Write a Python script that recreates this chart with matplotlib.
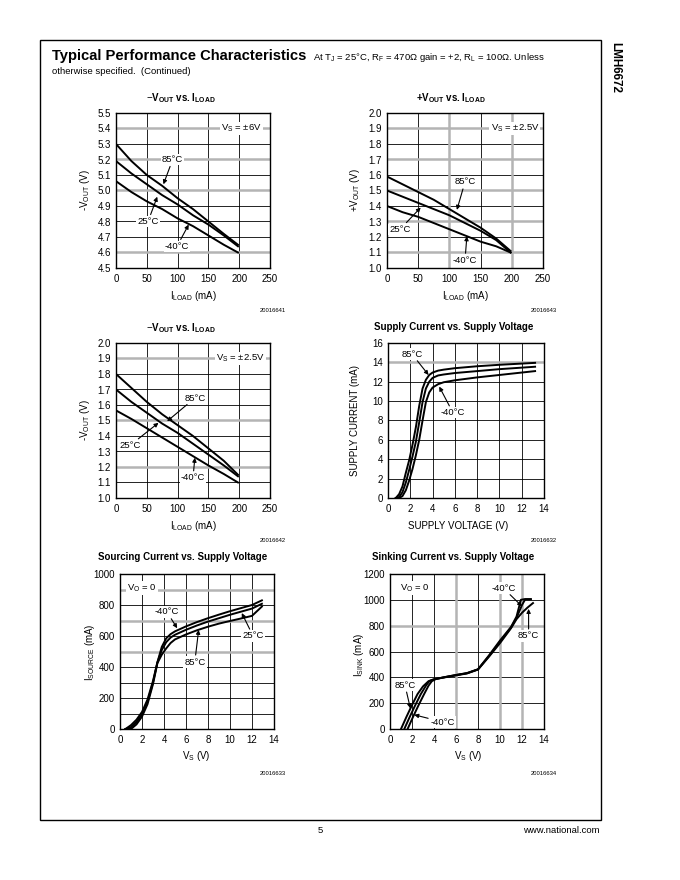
import matplotlib
matplotlib.use('Agg')
import matplotlib.pyplot as plt
from matplotlib.patches import Rectangle

plt.rcParams['font.family'] = ['Liberation Sans', 'DejaVu Sans']
plt.rcParams['mathtext.fontset'] = 'custom'
plt.rcParams['mathtext.rm'] = 'Liberation Sans'
plt.rcParams['mathtext.bf'] = 'Liberation Sans:bold'
plt.rcParams['mathtext.it'] = 'Liberation Sans:italic'
plt.rcParams['mathtext.sf'] = 'Liberation Sans'

# ---------------- data ----------------
temps = ['85°C', '25°C', '-40°C']

iload = [0, 25, 50, 75, 100, 125, 150, 175, 198]

# -VOUT vs ILOAD, VS = ±6V
vneg6_85 = [5.30, 5.19, 5.10, 5.03, 4.95, 4.88, 4.80, 4.72, 4.65]
vneg6_25 = [5.19, 5.11, 5.04, 4.97, 4.91, 4.84, 4.78, 4.71, 4.64]
vneg6_m40 = [5.06, 4.99, 4.93, 4.88, 4.82, 4.77, 4.71, 4.65, 4.60]

# +VOUT vs ILOAD, VS = ±2.5V
vpos25_85 = [1.59, 1.54, 1.49, 1.44, 1.38, 1.32, 1.26, 1.19, 1.11]
vpos25_25 = [1.50, 1.46, 1.42, 1.38, 1.34, 1.29, 1.24, 1.18, 1.10]
vpos25_m40 = [1.40, 1.36, 1.33, 1.29, 1.25, 1.21, 1.17, 1.14, 1.10]

# -VOUT vs ILOAD, VS = ±2.5V
vneg25_85 = [1.80, 1.71, 1.62, 1.54, 1.47, 1.40, 1.32, 1.24, 1.15]
vneg25_25 = [1.70, 1.62, 1.55, 1.48, 1.42, 1.35, 1.28, 1.21, 1.14]
vneg25_m40 = [1.565, 1.51, 1.45, 1.39, 1.33, 1.27, 1.21, 1.155, 1.10]

# Supply current vs supply voltage
supply_v = [0.7, 1.0, 1.3, 1.6, 1.9, 2.2, 2.5, 2.8, 3.1, 3.4, 3.7, 4.0,
            4.5, 5.0, 6.0, 8.0, 10.0, 13.2]
isupply_85 = [0, 0.4, 1.2, 2.6, 3.9, 5.5, 7.3, 9.5, 11.3, 12.2, 12.7, 12.95,
              13.15, 13.25, 13.4, 13.6, 13.75, 13.95]
isupply_25 = [0, 0.1, 0.6, 1.6, 2.9, 4.3, 5.8, 7.8, 9.9, 11.3, 12.0, 12.4,
              12.65, 12.75, 12.9, 13.1, 13.3, 13.55]
isupply_m40 = [0, 0, 0.2, 0.8, 1.8, 3.0, 4.4, 6.0, 8.0, 9.9, 10.9, 11.4,
               11.75, 11.95, 12.15, 12.45, 12.7, 13.1]

# Sourcing current vs VS
source_v = [0.5, 1.0, 1.5, 2.0, 2.5, 3.0, 3.4, 3.8, 4.2, 4.6, 5.0, 6.0,
            7.0, 8.0, 9.0, 10.0, 11.0, 12.0, 12.9]
isource_m40 = [0, 25, 60, 110, 190, 310, 430, 530, 585, 612, 630, 662,
               690, 715, 738, 760, 780, 800, 830]
isource_25 = [0, 12, 45, 95, 175, 300, 430, 510, 560, 590, 608, 640,
              668, 693, 715, 737, 757, 777, 808]
isource_85 = [0, 0, 30, 80, 160, 290, 425, 480, 520, 555, 578, 610,
              637, 660, 680, 697, 713, 730, 790]

# Sinking current vs VS
sink_v_85 = [1.0, 1.5, 2.0, 2.5, 3.0, 3.5, 4.0, 5.0, 6.0, 7.0, 8.0, 9.0,
             10.0, 11.0, 11.5, 12.0, 12.5, 13.0]
isink_85 = [0, 95, 185, 270, 330, 370, 385, 400, 415, 430, 460, 560,
            665, 780, 850, 900, 940, 975]
sink_v_25 = [1.3, 1.8, 2.3, 2.8, 3.3, 3.6, 4.0, 5.0, 6.0, 7.0, 8.0, 9.0,
             10.0, 11.0, 11.5, 12.0, 12.3, 12.8]
isink_25 = [0, 95, 185, 270, 340, 372, 385, 402, 418, 432, 462, 565,
            675, 785, 860, 960, 1005, 1005]
sink_v_m40 = [1.6, 2.1, 2.6, 3.1, 3.5, 3.8, 4.2, 5.0, 6.0, 7.0, 8.0, 9.0,
              10.0, 11.0, 11.5, 11.9, 12.2, 12.8]
isink_m40 = [0, 95, 185, 270, 335, 370, 388, 402, 418, 433, 462, 570,
             685, 790, 870, 1000, 1005, 1005]

iload_ticks = [0, 50, 100, 150, 200, 250]
vs_ticks = [0, 2, 4, 6, 8, 10, 12, 14]

# ---------------- figure ----------------
W, H = 680, 880
fig = plt.figure(figsize=(W / 100, H / 100), dpi=100)
fig.patch.set_facecolor('white')


def axes_px(x0, y0, x1, y1):
    return fig.add_axes([x0 / W, 1 - y1 / H, (x1 - x0) / W, (y1 - y0) / H])


def ftext(x, y, s, **kw):
    fig.text(x / W, 1 - y / H, s, **kw)


def style(ax, xlim, xticks, ylim, yticks, yfmt, gray_h=(), gray_v=()):
    ax.set_xlim(*xlim)
    ax.set_ylim(*ylim)
    ax.set_xticks(xticks)
    ax.set_yticks(yticks)
    ax.set_yticklabels([yfmt.format(v) for v in yticks])
    ax.tick_params(axis='y', length=0, labelsize=7, pad=3.5)
    ax.tick_params(axis='x', length=0, labelsize=7, pad=4)
    ax.set_axisbelow(True)
    ax.grid(True, color='black', lw=0.6)
    for y in gray_h:
        ax.axhline(y, color='#b4b4b4', lw=1.8, zorder=0.9)
    for x in gray_v:
        ax.axvline(x, color='#b4b4b4', lw=1.8, zorder=0.9)
    for s in ax.spines.values():
        s.set_linewidth(1.0)


def label(ax, text, xytext, tip=None):
    bb = dict(fc='white', ec='none', pad=0.8)
    if tip is None:
        ax.text(*xytext, text, ha='center', va='center', fontsize=6.8,
                bbox=bb, zorder=5)
    else:
        ax.annotate(text, xy=tip, xytext=xytext, ha='center', va='center',
                    fontsize=6.8, bbox=bb, zorder=5,
                    arrowprops=dict(arrowstyle='-|>', color='black', lw=0.8,
                                    mutation_scale=6, shrinkA=1, shrinkB=0))


LW = 1.4

# ---- Plot 1 ----
ax1 = axes_px(116, 113, 270, 268)
for ys in (vneg6_85, vneg6_25, vneg6_m40):
    ax1.plot(iload, ys, color='black', lw=LW, zorder=3)
style(ax1, (0, 250), iload_ticks, (4.5, 5.5),
      [4.5 + 0.1 * i for i in range(11)], '{:.1f}', gray_h=[5.4, 5.2, 5.0, 4.6])
label(ax1, r'V$_{\mathrm{S}}$ = ±6V', (204, 5.4))
label(ax1, temps[0], (92, 5.20), (77, 5.04))
label(ax1, temps[1], (52, 4.80), (67, 4.96))
label(ax1, temps[2], (99, 4.64), (118, 4.78))

# ---- Plot 2 ----
ax2 = axes_px(387, 113, 543, 268)
for ys in (vpos25_85, vpos25_25, vpos25_m40):
    ax2.plot(iload, ys, color='black', lw=LW, zorder=3)
style(ax2, (0, 250), iload_ticks, (1.0, 2.0),
      [1.0 + 0.1 * i for i in range(11)], '{:.1f}',
      gray_h=[1.9, 1.7, 1.5, 1.3, 1.1], gray_v=[100, 200])
label(ax2, r'V$_{\mathrm{S}}$ = ±2.5V', (205, 1.9))
label(ax2, temps[0], (125, 1.555), (112, 1.375))
label(ax2, temps[1], (21, 1.25), (54, 1.39))
label(ax2, temps[2], (125, 1.05), (128, 1.205))

# ---- Plot 3 ----
ax3 = axes_px(116, 343, 270, 498)
for ys in (vneg25_85, vneg25_25, vneg25_m40):
    ax3.plot(iload, ys, color='black', lw=LW, zorder=3)
style(ax3, (0, 250), iload_ticks, (1.0, 2.0),
      [1.0 + 0.1 * i for i in range(11)], '{:.1f}', gray_h=[1.9, 1.5, 1.2])
label(ax3, r'V$_{\mathrm{S}}$ = ±2.5V', (202, 1.9))
label(ax3, temps[0], (128, 1.645), (83, 1.495))
label(ax3, temps[1], (23, 1.34), (69, 1.485))
label(ax3, temps[2], (125, 1.13), (128, 1.26))

# ---- Plot 4 ----
ax4 = axes_px(388, 343, 544, 498)
for ys in (isupply_85, isupply_25, isupply_m40):
    ax4.plot(supply_v, ys, color='black', lw=LW, zorder=3)
style(ax4, (0, 14), vs_ticks, (0, 16), list(range(0, 17, 2)), '{:d}',
      gray_h=[14])
label(ax4, temps[0], (2.15, 14.86), (3.64, 12.7))
label(ax4, temps[2], (5.83, 8.8), (4.6, 11.5))

# ---- Plot 5 ----
ax5 = axes_px(120, 574, 274, 729)
for ys in (isource_m40, isource_25, isource_85):
    ax5.plot(source_v, ys, color='black', lw=LW, zorder=3)
style(ax5, (0, 14), vs_ticks, (0, 1000), list(range(0, 1001, 200)), '{:d}',
      gray_h=[900, 700, 500])
ax5.set_yticks(list(range(0, 1001, 100)), minor=True)
ax5.grid(True, which='minor', axis='y', color='black', lw=0.6)
ax5.tick_params(which='minor', length=0)
label(ax5, r'V$_{\mathrm{O}}$ = 0', (2.0, 910))
label(ax5, temps[2], (4.27, 755), (5.2, 650))
label(ax5, temps[1], (12.1, 600), (11.07, 748))
label(ax5, temps[0], (6.8, 432), (7.15, 640))

# ---- Plot 6 ----
ax6 = axes_px(390, 574, 544, 729)
ax6.plot(sink_v_85, isink_85, color='black', lw=LW, zorder=3)
ax6.plot(sink_v_25, isink_25, color='black', lw=LW, zorder=3)
ax6.plot(sink_v_m40, isink_m40, color='black', lw=LW, zorder=3)
style(ax6, (0, 14), vs_ticks, (0, 1200), list(range(0, 1201, 200)), '{:d}',
      gray_h=[800], gray_v=[6, 10, 12])
label(ax6, r'V$_{\mathrm{O}}$ = 0', (2.27, 1092))
label(ax6, temps[2], (10.3, 1091), (12.0, 950))
label(ax6, temps[0], (12.6, 720), (12.6, 930))
label(ax6, temps[0], (1.36, 340), (1.85, 160))
label(ax6, temps[2], (4.8, 54), (2.2, 110))

# ---------------- titles and labels ----------------
tkw = dict(ha='center', va='center', fontsize=7, fontweight='bold')
ftext(181, 98, r'$-$V$_{\mathbf{OUT}}$ vs. I$_{\mathbf{LOAD}}$', **tkw)
ftext(451, 98, r'+V$_{\mathbf{OUT}}$ vs. I$_{\mathbf{LOAD}}$', **tkw)
ftext(181, 328, r'$-$V$_{\mathbf{OUT}}$ vs. I$_{\mathbf{LOAD}}$', **tkw)
ftext(454, 327, 'Supply Current vs. Supply Voltage', **tkw)
ftext(183, 557, 'Sourcing Current vs. Supply Voltage', **tkw)
ftext(453, 557, 'Sinking Current vs. Supply Voltage', **tkw)

lkw = dict(ha='center', va='center', fontsize=7)
ftext(193, 296, r'I$_{\mathrm{LOAD}}$ (mA)', **lkw)
ftext(465, 296, r'I$_{\mathrm{LOAD}}$ (mA)', **lkw)
ftext(193, 526, r'I$_{\mathrm{LOAD}}$ (mA)', **lkw)
ftext(458, 526, 'SUPPLY VOLTAGE (V)', **lkw)
ftext(196, 756, r'V$_{\mathrm{S}}$ (V)', **lkw)
ftext(468, 756, r'V$_{\mathrm{S}}$ (V)', **lkw)

ftext(85, 190, r'-V$_{\mathrm{OUT}}$ (V)', rotation=90, **lkw)
ftext(355, 190, r'+V$_{\mathrm{OUT}}$ (V)', rotation=90, **lkw)
ftext(85, 420, r'-V$_{\mathrm{OUT}}$ (V)', rotation=90, **lkw)
ftext(355, 420, 'SUPPLY CURRENT (mA)', rotation=90, **lkw)
ftext(90, 652, r'I$_{\mathrm{SOURCE}}$ (mA)', rotation=90, **lkw)
ftext(359, 655, r'I$_{\mathrm{SINK}}$ (mA)', rotation=90, **lkw)

ikw = dict(ha='right', va='center', fontsize=4.2)
ftext(286, 311, '20016641', **ikw)
ftext(557, 311, '20016643', **ikw)
ftext(286, 541, '20016642', **ikw)
ftext(557, 540, '20016632', **ikw)
ftext(286, 773, '20016633', **ikw)
ftext(557, 773, '20016634', **ikw)

# ---------------- page furniture ----------------
fig.patches.append(Rectangle((40 / W, 1 - 820 / H), 561 / W, 780 / H,
                             transform=fig.transFigure, fill=False,
                             ec='black', lw=1.0))
ftext(52, 56, 'Typical Performance Characteristics', ha='left', va='center',
      fontsize=10.6, fontweight='bold')
ftext(313, 57, r'At T$_{\mathrm{J}}$ = 25°C, R$_{\mathrm{F}}$ = 470Ω gain = +2, '
      r'R$_{\mathrm{L}}$ = 100Ω. Unless', ha='left', va='center', fontsize=6.8)
ftext(52, 72, 'otherwise specified.  (Continued)', ha='left', va='center',
      fontsize=6.8)
ftext(615, 67, 'LMH6672', ha='center', va='center', rotation=-90,
      fontsize=8.5, fontweight='bold')
ftext(320, 830, '5', ha='center', va='center', fontsize=6.8)
ftext(600, 830, 'www.national.com', ha='right', va='center', fontsize=6.8)

fig.savefig('out.png', dpi=100)
